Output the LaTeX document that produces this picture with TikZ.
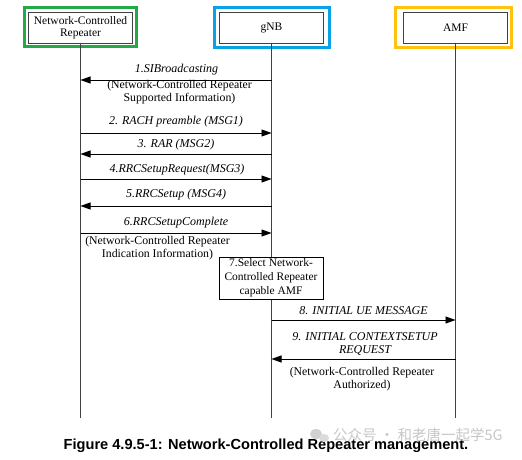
\documentclass[tikz,border=0pt]{standalone}
\usepackage{fontspec}
\setmainfont{Liberation Serif}
\newfontfamily\capfont{Liberation Sans}
\newfontfamily\cjkfont{Noto Sans CJK SC}
\usetikzlibrary{arrows.meta}
\definecolor{frgreen}{HTML}{22AA47}
\definecolor{frblue}{HTML}{0AA2E6}
\definecolor{fryellow}{HTML}{FFC20E}
\definecolor{lineg}{HTML}{404040}
\tikzset{
  ent/.style={draw=lineg, line width=0.9pt, minimum width=104pt, minimum height=31pt, inner sep=0pt, align=center, font=\fontsize{11.5}{12}\selectfont},
  frame/.style={line width=3pt},
  life/.style={draw=lineg, line width=0.9pt},
  msg/.style={draw=black, line width=0.9pt, -{Triangle[length=10pt,width=7pt]}},
  lab/.style={font=\fontsize{12}{13}\selectfont\itshape, inner sep=0pt},
  sub/.style={font=\fontsize{11.8}{13}\selectfont, inner sep=0pt, align=center},
  actbox/.style={draw=black, fill=white, line width=0.9pt, minimum width=104pt, minimum height=42pt, inner sep=0pt, align=center, font=\fontsize{11.5}{14}\selectfont}
}
\begin{document}
\begin{tikzpicture}[x=1pt,y=-1pt]
\useasboundingbox[fill=white] (0,0) rectangle (522,460);
% entity boxes
\node[ent] (rep) at (80.5,27.5) {Network-Controlled\\Repeater};
\node[ent] (gnb) at (271.5,27.5) {gNB};
\node[ent] (amf) at (455.5,27.5) {AMF};
\draw[frame, frgreen] (24.5,7.5) rectangle (136.5,46.5);
\draw[frame, frblue] (214.5,7.5) rectangle (329.5,47.5);
\draw[frame, fryellow] (395.5,7.5) rectangle (511.5,47.5);
% lifeline ends
\coordinate (repE) at (80.5,418);
\coordinate (gnbE) at (271.5,418);
\coordinate (amfE) at (455.5,418);
\draw[life] (rep.south) -- (repE);
\draw[life] (gnb.south) -- (gnbE);
\draw[life] (amf.south) -- (amfE);
% helper coordinates for messages
\foreach \n/\y in {1/80,2/133,3/154,4/179,5/206,6/233,8/320,9/359}{
  \coordinate (r\n) at (80.5,\y);
  \coordinate (g\n) at (271.5,\y);
  \coordinate (a\n) at (455.5,\y);
}
% 1
\draw[msg] (g1) -- (r1);
\node[lab] (l1) at (176.5,70) {1.SIBroadcasting};
\node[sub] (s1) at (179.5,92) {(Network-Controlled Repeater\\Supported Information)};
% 2
\draw[msg] (r2) -- (g2);
\node[lab] (l2) at (176,122) {2. RACH preamble (MSG1)};
% 3
\draw[msg] (g3) -- (r3);
\node[lab] (l3) at (176,144.5) {3. RAR (MSG2)};
% 4
\draw[msg] (r4) -- (g4);
\node[lab] (l4) at (177,170) {4.RRCSetupRequest(MSG3)};
% 5
\draw[msg] (g5) -- (r5);
\node[lab] (l5) at (176,195) {5.RRCSetup (MSG4)};
% 6
\draw[msg] (r6) -- (g6);
\node[lab] (l6) at (176,223) {6.RRCSetupComplete};
\node[sub] (s6) at (157.5,248.5) {(Network-Controlled Repeater\\Indication Information)};
% 7
\node[actbox] (b7) at (271,278) {7.Select Network-\\Controlled Repeater\\capable AMF};
% 8
\draw[msg] (g8) -- (a8);
\node[lab] (l8) at (363.5,311) {8. INITIAL UE MESSAGE};
% 9
\draw[msg] (a9) -- (g9);
\node[lab, align=center] (l9) at (365,343.5) {9. INITIAL CONTEXTSETUP\\REQUEST};
\node[sub] (s9) at (362,379) {(Network-Controlled Repeater\\Authorized)};
% caption
\node[font=\capfont\bfseries\fontsize{14.6}{16}\selectfont, inner sep=0pt] (cap) at (266,445.5) {Figure 4.9.5-1: Network-Controlled Repeater management.};
% watermark
\fill[black!18] (316,434) ellipse (6pt and 5pt);
\fill[black!14] (324,438) ellipse (5pt and 4pt);
\node[font=\cjkfont\fontsize{14.5}{16}\selectfont, text=black!22, inner sep=0pt, anchor=west] (wm) at (333,435) {公众号 · 和老唐一起学5G};
\end{tikzpicture}
\end{document}
